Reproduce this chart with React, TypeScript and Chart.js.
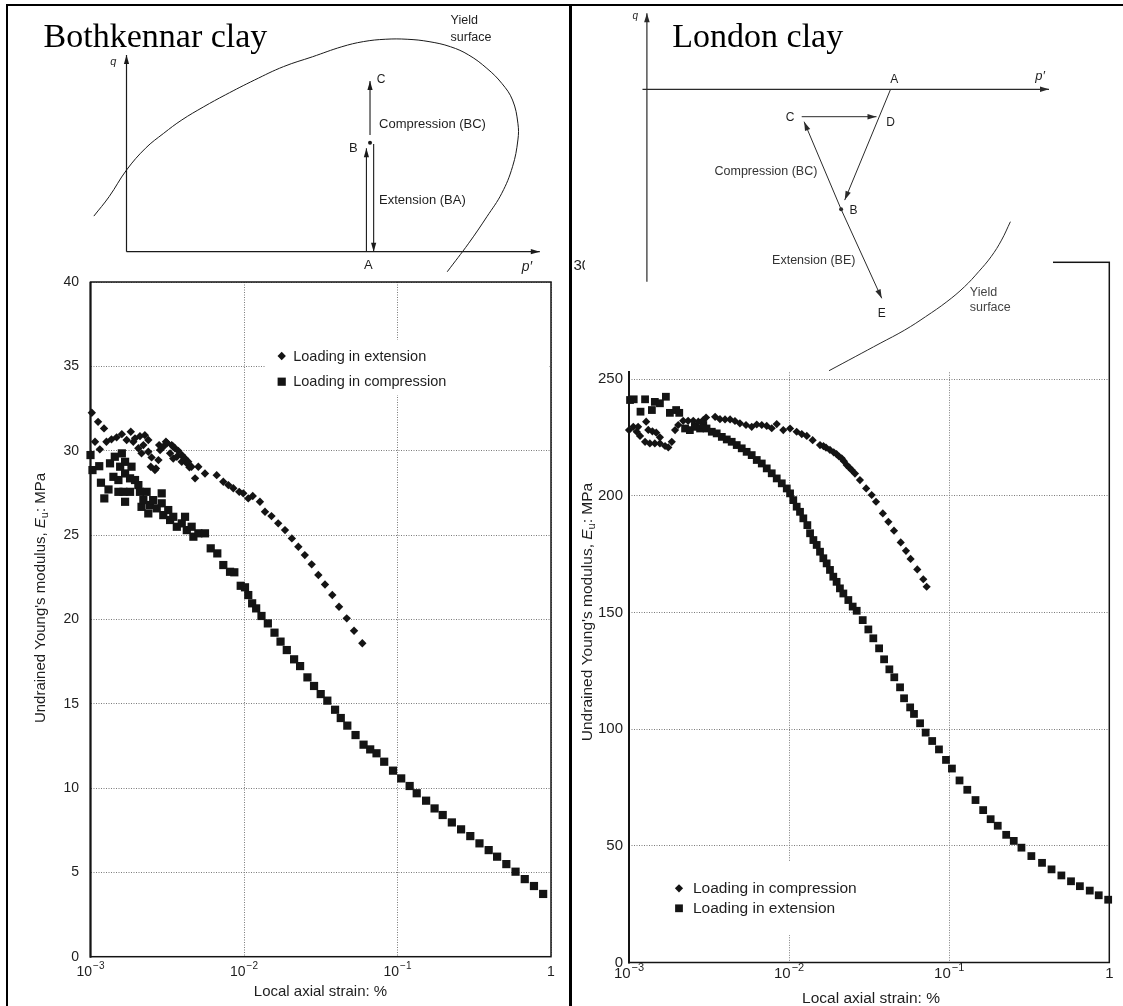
import React, { useEffect, useRef } from 'react';
import { Chart, registerables } from 'chart.js';

Chart.register(...registerables);

const SANS = '"Liberation Sans", Arial, Helvetica, "DejaVu Sans", sans-serif';
const SERIF = '"Liberation Serif", "Times New Roman", serif';
const INK = '#141414';
const TEXT = '#1e1e1e';
const GRID = '#7a7a7a';

// ---------- Bothkennar clay: undrained Young's modulus vs local axial strain ----------
const bothExtStrain = [
  0.00102, 0.00107, 0.00112, 0.00115, 0.001225, 0.00127, 0.00137, 0.00148, 0.0016, 0.00172,
  0.00183, 0.0019, 0.00195, 0.00205, 0.0021, 0.00215, 0.00221, 0.00226, 0.00238, 0.00238,
  0.00247, 0.0025, 0.00263, 0.00267, 0.00277, 0.0028, 0.00284, 0.00298, 0.0031, 0.00316,
  0.0033, 0.00338, 0.00346, 0.00346, 0.00355, 0.00365, 0.00373, 0.00393, 0.00393, 0.004,
  0.00413, 0.00424, 0.00433, 0.00441, 0.00455, 0.0048, 0.00504, 0.00557, 0.00664, 0.00733,
  0.00791, 0.00852, 0.00931, 0.00989, 0.01066, 0.0114, 0.0127, 0.0137, 0.0151, 0.0167,
  0.0185, 0.0205, 0.0226, 0.0249, 0.0276, 0.0305, 0.0337, 0.0376, 0.0416, 0.0467,
  0.0521, 0.059,
];
const bothExtModulus = [
  32.25, 30.53, 31.71, 30.08, 31.32, 30.53, 30.67, 30.79, 30.98, 30.63,
  31.12, 30.53, 30.73, 30.14, 30.86, 29.84, 30.33, 30.92, 30.63, 29.94,
  29.05, 29.6, 28.85, 28.95, 29.44, 30.33, 30.04, 30.23, 30.53, 30.45,
  29.84, 30.33, 29.54, 30.23, 30.14, 29.64, 29.99, 29.74, 29.34, 29.64,
  29.54, 29.25, 29.34, 29.01, 29.05, 28.36, 29.05, 28.65, 28.55, 28.16,
  27.96, 27.77, 27.56, 27.47, 27.17, 27.31, 26.97, 26.38, 26.12, 25.69,
  25.29, 24.8, 24.3, 23.81, 23.26, 22.63, 22.07, 21.44, 20.75, 20.06,
  19.32, 18.58,
];
const bothCompStrain = [
  0.001, 0.00103, 0.00114, 0.00117, 0.00123, 0.00131, 0.00134, 0.00141, 0.00144, 0.00152,
  0.00152, 0.00156, 0.0016, 0.00164, 0.00168, 0.00168, 0.00168, 0.00181, 0.00181, 0.00185,
  0.00195, 0.00205, 0.0021, 0.00215, 0.00221, 0.00232, 0.00238, 0.00244, 0.00256, 0.0027,
  0.00291, 0.00291, 0.00298, 0.00321, 0.0033, 0.00346, 0.00365, 0.00393, 0.00413, 0.00424,
  0.00456, 0.00468, 0.00504, 0.00557, 0.00607, 0.0067, 0.00733, 0.00811, 0.00865, 0.00952,
  0.01015, 0.01066, 0.0113, 0.012, 0.013, 0.0143, 0.0158, 0.0173, 0.019, 0.0212,
  0.0232, 0.0259, 0.0286, 0.0316, 0.0349, 0.0392, 0.0427, 0.0471, 0.0533, 0.0601,
  0.0664, 0.073, 0.0819, 0.0935, 0.1057, 0.12, 0.1334, 0.1536, 0.1744, 0.197,
  0.226, 0.2595, 0.298, 0.342, 0.3927, 0.4457, 0.5117, 0.5875, 0.6745, 0.7745,
  0.889,
];
const bothCompModulus = [
  29.74, 28.85, 29.08, 28.1, 27.17, 27.7, 29.25, 28.45, 29.64, 28.26,
  27.56, 29.05, 29.84, 27.56, 29.34, 28.65, 26.97, 28.36, 27.56, 29.05,
  28.26, 27.96, 27.56, 26.67, 27.07, 27.56, 26.28, 26.78, 27.07, 26.58,
  27.47, 26.88, 26.18, 26.48, 25.89, 26.08, 25.49, 25.69, 26.08, 25.29,
  25.49, 24.9, 25.1, 25.1, 24.21, 23.91, 23.22, 22.82, 22.79, 21.99,
  21.9, 21.44, 20.95, 20.65, 20.2, 19.76, 19.21, 18.68, 18.18, 17.63,
  17.23, 16.56, 16.05, 15.57, 15.18, 14.64, 14.15, 13.7, 13.14, 12.57,
  12.29, 12.06, 11.56, 11.03, 10.57, 10.12, 9.69, 9.25, 8.79, 8.4,
  7.96, 7.55, 7.15, 6.72, 6.32, 5.93, 5.49, 5.04, 4.6, 4.19,
  3.72,
];

// ---------- London clay: undrained Young's modulus vs local axial strain ----------
const lonCompStrain = [
  0.001, 0.001064, 0.001117, 0.00114, 0.001172, 0.00126, 0.00128, 0.00132, 0.00135, 0.0014,
  0.00145, 0.00148, 0.00156, 0.00156, 0.00168, 0.00176, 0.00185, 0.00194, 0.00203, 0.00218,
  0.00234, 0.00252, 0.00271, 0.00291, 0.00303, 0.00345, 0.0037, 0.00398, 0.00428, 0.00459,
  0.00493, 0.00538, 0.00584, 0.00628, 0.00675, 0.00725, 0.00779, 0.00837, 0.0092, 0.01014,
  0.01115, 0.012, 0.0129, 0.01403, 0.0156, 0.0164, 0.017, 0.018, 0.019, 0.0198,
  0.0205, 0.0213, 0.022, 0.0229, 0.0238, 0.0246, 0.0258, 0.0277, 0.0303, 0.0328,
  0.0349, 0.0385, 0.0417, 0.0452, 0.0498, 0.0537, 0.0574, 0.0632, 0.0689, 0.0723,
];
const lonCompModulus = [
  228.1, 229.5, 227.4, 229.5, 225.6, 223.1, 231.7, 228.2, 222.4, 227.6,
  222.4, 227.0, 222.4, 225.0, 221.3, 220.7, 223.1, 228.1, 230.3, 232.1,
  232.1, 232.1, 231.7, 232.4, 233.5, 233.8, 232.8, 232.7, 232.7, 232.0,
  231.0, 230.3, 229.5, 230.5, 230.3, 229.9, 228.9, 230.7, 228.1, 228.8,
  227.4, 226.4, 225.6, 223.8, 221.7, 221.2, 220.6, 219.6, 218.6, 217.8,
  216.8, 216.0, 214.8, 213.1, 212.0, 211.0, 209.5, 206.7, 203.1, 200.3,
  197.4, 192.4, 188.8, 185.0, 180.0, 176.4, 172.9, 168.4, 164.2, 161.0,
];
const lonExtStrain = [
  0.001015, 0.00107, 0.00118, 0.00126, 0.00139, 0.00145, 0.00156, 0.0017, 0.0018, 0.00197,
  0.00206, 0.00224, 0.0024, 0.00258, 0.00278, 0.00291, 0.00305, 0.00329, 0.00353, 0.0038,
  0.00408, 0.00438, 0.00471, 0.00506, 0.00543, 0.00584, 0.00628, 0.00675, 0.00725, 0.00779,
  0.00837, 0.009, 0.00967, 0.01014, 0.01062, 0.01115, 0.0117, 0.01227, 0.013, 0.01352,
  0.01418, 0.01487, 0.0156, 0.01636, 0.01716, 0.018, 0.01888, 0.0198, 0.02077, 0.02182,
  0.02344, 0.02495, 0.02644, 0.02883, 0.03126, 0.03357, 0.03648, 0.0392, 0.04229, 0.04539,
  0.04932, 0.05224, 0.05703, 0.06026, 0.06577, 0.07127, 0.07829, 0.0863, 0.09549, 0.104,
  0.116, 0.1297, 0.146, 0.163, 0.1815, 0.201, 0.227, 0.253, 0.2826, 0.326,
  0.38, 0.4357, 0.502, 0.5765, 0.655, 0.755, 0.859, 0.984,
];
const lonExtModulus = [
  241.0, 241.3, 236.0, 241.3, 236.7, 240.2, 239.6, 242.4, 235.5, 236.7,
  235.5, 228.8, 228.1, 229.5, 228.8, 230.3, 228.8, 227.4, 226.7, 225.2,
  224.1, 223.1, 221.7, 220.3, 218.8, 217.4, 215.3, 213.8, 211.7, 209.6,
  207.4, 205.3, 203.1, 201.0, 198.1, 195.3, 193.1, 190.3, 187.4, 183.9,
  181.0, 178.9, 176.0, 173.2, 171.0, 168.2, 165.3, 163.1, 160.3, 158.1,
  155.3, 152.5, 150.7, 146.7, 142.7, 138.9, 134.6, 129.9, 125.6, 122.2,
  117.9, 113.2, 109.3, 106.5, 102.5, 98.5, 94.9, 91.3, 86.8, 83.1,
  78.0, 74.0, 69.6, 65.3, 61.4, 58.6, 54.7, 52.1, 49.2, 45.6,
  42.7, 39.9, 37.3, 34.8, 32.7, 30.8, 28.8, 26.9,
];

// ---------- axis ticks ----------
const strainTicks = [0.001, 0.01, 0.1, 1];
const strainTickBase = ['10', '10', '10', '1'];
const strainTickExp = ['\u22123', '\u22122', '\u22121', ''];
const bothModulusTicks = [0, 5, 10, 15, 20, 25, 30, 35, 40];
const lonModulusTicks = [0, 50, 100, 150, 200, 250, 300];

// ---------- stress path sketches (p', q in sketch units) ----------
const bothYieldP = [-7.9, -4.2, 0, 4.6, 9.0, 13.4, 18.7, 23.9, 31.0, 38.0, 45.0, 52.1, 57.3, 62.6, 67.9, 73.2, 78.4, 82.8, 87.2, 90.8, 93.4, 94.7, 94.7, 93.4, 90.8, 87.2, 82.8, 77.6];
const bothYieldQ = [18.1, 28.0, 41.5, 52.6, 60.2, 67.0, 73.7, 79.7, 87.3, 94.1, 99.1, 104.2, 106.8, 108.0, 108.0, 106.8, 104.2, 100.0, 93.2, 85.6, 77.1, 65.3, 56.8, 43.2, 29.7, 17.8, 4.3, -10.2];
const bothPathAB = { p: [58.05, 58.05], q: [0, 52.6] };
const bothPathBA = { p: [59.8, 59.8], q: [54.8, 0] };
const bothPathBC = { p: [58.92, 58.92], q: [59.3, 86.8] };
const bothPointB = { p: 58.92, q: 55.4 };

const lonYieldP = [90.4, 88.2, 85.6, 82.5, 79.0, 74.6, 69.3, 64.1, 58.0, 51.8, 45.3];
const lonYieldQ = [-66.2, -75.4, -83.7, -91.2, -98.7, -106.2, -113.7, -120.4, -127, -133.7, -140.7];
const lonPathAB = { p: [60.6, 49.2], q: [0, -55.4] };
const lonPathBC = { p: [48.3, 39.1], q: [-60, -16.2] };
const lonPathCD = { p: [38.5, 57.1], q: [-13.7, -13.7] };
const lonPathBE = { p: [48.3, 58.4], q: [-60, -104.5] };
const lonPointB = { p: 48.3, q: -60 };

type Shape = 'rectRot' | 'rect';
type Series = { label: string; strain: number[]; modulus: number[]; shape: Shape; radius: number };

type ModulusSpec = {
  width: number;
  height: number;
  padding: { left: number; right: number; top: number; bottom: number };
  yMax: number;
  yTicks: number[];
  series: Series[];
  tickFont: number;
  legendFont: number;
  titleFont: number;
  yLabelGap: number;
  xLabelDrop: number;
  xTitle: { x: number; y: number };
  yTitle: { x: number; y: number };
  legendBox: { x: number; y: number; w: number; h: number };
  legendRows: { x: number; y: number }[];
  legendTextGap: number;
  stray?: { value: number; x: number; clipRight: number; dy: number };
};

function drawMarker(ctx: CanvasRenderingContext2D, shape: Shape, x: number, y: number, r: number) {
  ctx.beginPath();
  if (shape === 'rectRot') {
    ctx.moveTo(x - r, y);
    ctx.lineTo(x, y - r);
    ctx.lineTo(x + r, y);
    ctx.lineTo(x, y + r);
    ctx.closePath();
  } else {
    const s = r * Math.SQRT1_2;
    ctx.rect(x - s, y - s, 2 * s, 2 * s);
  }
  ctx.fill();
}

function drawPower(ctx: CanvasRenderingContext2D, cx: number, cy: number, base: string, exp: string, size: number) {
  const big = `${size}px ${SANS}`;
  const small = `${Math.round(size * 0.72)}px ${SANS}`;
  ctx.font = big;
  const wb = ctx.measureText(base).width;
  ctx.font = small;
  const we = exp ? ctx.measureText(exp).width + 1 : 0;
  const x0 = cx - (wb + we) / 2;
  ctx.textAlign = 'left';
  ctx.textBaseline = 'middle';
  ctx.font = big;
  ctx.fillText(base, x0, cy);
  if (exp) {
    ctx.font = small;
    ctx.fillText(exp, x0 + wb + 1, cy - size * 0.38);
  }
}

function drawModulusTitle(ctx: CanvasRenderingContext2D, cx: number, cy: number, size: number) {
  const parts = [
    { t: "Undrained Young's modulus, ", f: `${size}px ${SANS}`, dy: 0 },
    { t: 'E', f: `italic ${size}px ${SANS}`, dy: 0 },
    { t: 'u', f: `${Math.round(size * 0.7)}px ${SANS}`, dy: size * 0.28 },
    { t: ': MPa', f: `${size}px ${SANS}`, dy: 0 },
  ];
  let total = 0;
  const widths = parts.map((p) => {
    ctx.font = p.f;
    const w = ctx.measureText(p.t).width;
    total += w;
    return w;
  });
  ctx.save();
  ctx.translate(cx, cy);
  ctx.rotate(-Math.PI / 2);
  ctx.textAlign = 'left';
  ctx.textBaseline = 'middle';
  let x = -total / 2;
  parts.forEach((p, i) => {
    ctx.font = p.f;
    ctx.fillText(p.t, x, p.dy);
    x += widths[i];
  });
  ctx.restore();
}

function buildModulusChart(canvas: HTMLCanvasElement, spec: ModulusSpec) {
  const decor = {
    id: 'modulusDecor',
    afterDraw(chart: any) {
      const { ctx, chartArea: a } = chart;
      const xs = chart.scales.x;
      const ys = chart.scales.y;
      ctx.save();
      // legend panel
      ctx.fillStyle = '#ffffff';
      ctx.fillRect(spec.legendBox.x, spec.legendBox.y, spec.legendBox.w, spec.legendBox.h);
      // plot frame
      ctx.strokeStyle = INK;
      ctx.lineWidth = 1.5;
      ctx.strokeRect(a.left, a.top, a.right - a.left, a.bottom - a.top);
      ctx.lineWidth = 2;
      ctx.beginPath();
      ctx.moveTo(a.left, a.top);
      ctx.lineTo(a.left, a.bottom + 1);
      ctx.stroke();
      // modulus tick labels
      ctx.fillStyle = TEXT;
      ctx.font = `${spec.tickFont}px ${SANS}`;
      ctx.textAlign = 'right';
      ctx.textBaseline = 'middle';
      spec.yTicks.forEach((v) => {
        if (spec.stray && v === spec.stray.value) return;
        ctx.fillText(String(v), a.left - spec.yLabelGap, ys.getPixelForValue(v));
      });
      if (spec.stray) {
        ctx.save();
        ctx.beginPath();
        ctx.rect(0, 0, spec.stray.clipRight, spec.height);
        ctx.clip();
        ctx.textAlign = 'left';
        ctx.fillText(String(spec.stray.value), spec.stray.x, ys.getPixelForValue(spec.stray.value) + spec.stray.dy);
        ctx.restore();
      }
      // strain tick labels
      strainTicks.forEach((v, i) => {
        drawPower(ctx, xs.getPixelForValue(v), a.bottom + spec.xLabelDrop, strainTickBase[i], strainTickExp[i], spec.tickFont);
      });
      // axis titles
      ctx.font = `${spec.titleFont}px ${SANS}`;
      ctx.textAlign = 'center';
      ctx.textBaseline = 'middle';
      ctx.fillText('Local axial strain: %', spec.xTitle.x, spec.xTitle.y);
      drawModulusTitle(ctx, spec.yTitle.x, spec.yTitle.y, spec.titleFont);
      // legend entries
      spec.series.forEach((s, i) => {
        const row = spec.legendRows[i];
        ctx.fillStyle = INK;
        drawMarker(ctx, s.shape, row.x, row.y, s.radius);
        ctx.fillStyle = TEXT;
        ctx.font = `${spec.legendFont}px ${SANS}`;
        ctx.textAlign = 'left';
        ctx.textBaseline = 'middle';
        ctx.fillText(s.label, row.x + spec.legendTextGap, row.y + 0.5);
      });
      ctx.restore();
    },
  };

  const gridOpts = { color: GRID, lineWidth: 1, drawTicks: false };
  const borderOpts = { display: false, dash: [1, 1.5] };

  return new Chart(canvas, {
    type: 'scatter',
    data: {
      datasets: spec.series.map((s) => ({
        label: s.label,
        data: s.strain.map((v, i) => ({ x: v, y: s.modulus[i] })),
        pointStyle: s.shape,
        pointRadius: s.radius,
        pointHoverRadius: s.radius,
        backgroundColor: INK,
        borderColor: INK,
        borderWidth: 0,
        showLine: false,
        clip: false,
      })),
    },
    options: {
      responsive: false,
      animation: false,
      events: [],
      layout: { padding: spec.padding },
      plugins: { legend: { display: false }, tooltip: { enabled: false } },
      scales: {
        x: {
          type: 'logarithmic',
          min: 0.001,
          max: 1,
          afterBuildTicks: (sc: any) => {
            sc.ticks = strainTicks.map((value) => ({ value }));
          },
          ticks: { display: false },
          grid: gridOpts,
          border: borderOpts,
        },
        y: {
          type: 'linear',
          min: 0,
          max: spec.yMax,
          afterBuildTicks: (sc: any) => {
            sc.ticks = spec.yTicks.map((value) => ({ value }));
          },
          ticks: { display: false },
          grid: gridOpts,
          border: borderOpts,
        },
      },
    } as any,
    plugins: [decor],
  });
}

type Path = { p: number[]; q: number[]; arrow: boolean; smooth?: boolean; width: number };
type Label = { text: string; p: number; q: number; align: CanvasTextAlign; font: string; color?: string };

type DiagramSpec = {
  width: number;
  height: number;
  padding: { left: number; right: number; top: number; bottom: number };
  pRange: [number, number];
  qRange: [number, number];
  ink: string;
  paths: Path[];
  dot: { p: number; q: number; r: number };
  labels: Label[];
  arrow: { len: number; half: number };
  title: { text: string; x: number; y: number; size: number };
};

function buildDiagram(canvas: HTMLCanvasElement, spec: DiagramSpec) {
  const decor = {
    id: 'stressPathDecor',
    afterDatasetsDraw(chart: any) {
      const { ctx } = chart;
      const xs = chart.scales.x;
      const ys = chart.scales.y;
      ctx.save();
      ctx.fillStyle = spec.ink;
      spec.paths.forEach((path) => {
        if (!path.arrow) return;
        const n = path.p.length;
        const x1 = xs.getPixelForValue(path.p[n - 2]);
        const y1 = ys.getPixelForValue(path.q[n - 2]);
        const x2 = xs.getPixelForValue(path.p[n - 1]);
        const y2 = ys.getPixelForValue(path.q[n - 1]);
        const ang = Math.atan2(y2 - y1, x2 - x1);
        const c = Math.cos(ang);
        const s = Math.sin(ang);
        const L = spec.arrow.len;
        const W = spec.arrow.half;
        ctx.beginPath();
        ctx.moveTo(x2, y2);
        ctx.lineTo(x2 - L * c + W * s, y2 - L * s - W * c);
        ctx.lineTo(x2 - L * c - W * s, y2 - L * s + W * c);
        ctx.closePath();
        ctx.fill();
      });
      ctx.textBaseline = 'middle';
      spec.labels.forEach((l) => {
        ctx.fillStyle = l.color || TEXT;
        ctx.font = l.font;
        ctx.textAlign = l.align;
        ctx.fillText(l.text, xs.getPixelForValue(l.p), ys.getPixelForValue(l.q));
      });
      ctx.fillStyle = '#000';
      ctx.font = `${spec.title.size}px ${SERIF}`;
      ctx.textAlign = 'left';
      ctx.textBaseline = 'alphabetic';
      ctx.fillText(spec.title.text, spec.title.x, spec.title.y);
      ctx.restore();
    },
  };

  return new Chart(canvas, {
    type: 'scatter',
    data: {
      datasets: [
        ...spec.paths.map((path) => ({
          data: path.p.map((v, i) => ({ x: v, y: path.q[i] })),
          showLine: true,
          borderColor: spec.ink,
          borderWidth: path.width,
          pointRadius: 0,
          tension: path.smooth ? 0.4 : 0,
          clip: false,
          fill: false,
        })),
        {
          data: [{ x: spec.dot.p, y: spec.dot.q }],
          pointRadius: spec.dot.r,
          backgroundColor: spec.ink,
          borderWidth: 0,
          showLine: false,
          clip: false,
        },
      ],
    },
    options: {
      responsive: false,
      animation: false,
      events: [],
      layout: { padding: spec.padding },
      elements: { line: { capBezierPoints: false } },
      plugins: { legend: { display: false }, tooltip: { enabled: false } },
      scales: {
        x: { type: 'linear', display: false, min: spec.pRange[0], max: spec.pRange[1] },
        y: { type: 'linear', display: false, min: spec.qRange[0], max: spec.qRange[1] },
      },
    } as any,
    plugins: [decor],
  });
}

const small = (px: number, italic = false) => `${italic ? 'italic ' : ''}${px}px ${SANS}`;

const bothDiagram: DiagramSpec = {
  width: 568,
  height: 278,
  padding: { left: 126.5, right: 28.2, top: 55, bottom: 26.3 },
  pRange: [0, 100],
  qRange: [0, 100],
  ink: '#1a1a1a',
  paths: [
    { p: bothYieldP, q: bothYieldQ, arrow: false, smooth: true, width: 1 },
    { p: [0, 100], q: [0, 0], arrow: true, width: 1.2 },
    { p: [0, 0], q: [0, 100], arrow: true, width: 1.2 },
    { ...bothPathAB, arrow: true, width: 1.1 },
    { ...bothPathBA, arrow: true, width: 1.1 },
    { ...bothPathBC, arrow: true, width: 1.1 },
  ],
  dot: { p: bothPointB.p, q: bothPointB.q, r: 2 },
  labels: [
    { text: 'q', p: -3.2, q: 96.6, align: 'center', font: small(11, true) },
    { text: 'p\u2032', p: 96.9, q: -7.6, align: 'center', font: small(14, true) },
    { text: 'A', p: 58.5, q: -6.8, align: 'center', font: small(13) },
    { text: 'B', p: 54.9, q: 52.6, align: 'center', font: small(13) },
    { text: 'C', p: 61.6, q: 87.3, align: 'center', font: small(12) },
    { text: 'Compression (BC)', p: 61.1, q: 64.9, align: 'left', font: small(13) },
    { text: 'Extension (BA)', p: 61.1, q: 26.3, align: 'left', font: small(13) },
    { text: 'Yield', p: 78.4, q: 117.4, align: 'left', font: small(12.5) },
    { text: 'surface', p: 78.4, q: 109, align: 'left', font: small(12.5) },
  ],
  arrow: { len: 9, half: 2.6 },
  title: { text: 'Bothkennar clay', x: 43.6, y: 46.7, size: 34 },
};

const lonDiagram: DiagramSpec = {
  width: 467,
  height: 371,
  padding: { left: 60.9, right: 3.3, top: 13.3, bottom: 81.7 },
  pRange: [0, 100],
  qRange: [-100, 38],
  ink: '#2a2a2a',
  paths: [
    { p: lonYieldP, q: lonYieldQ, arrow: false, smooth: true, width: 1 },
    { p: [-1.1, 100], q: [0, 0], arrow: true, width: 1.2 },
    { p: [0, 0], q: [-96.2, 38], arrow: true, width: 1.2 },
    { ...lonPathAB, arrow: true, width: 1 },
    { ...lonPathBC, arrow: true, width: 1 },
    { ...lonPathCD, arrow: true, width: 1 },
    { ...lonPathBE, arrow: true, width: 1 },
  ],
  dot: { p: lonPointB.p, q: lonPointB.q, r: 2 },
  labels: [
    { text: 'q', p: -2.9, q: 36.3, align: 'center', font: small(10, true) },
    { text: 'p\u2032', p: 97.8, q: 6.3, align: 'center', font: small(13, true) },
    { text: 'A', p: 61.5, q: 5, align: 'center', font: small(12) },
    { text: 'C', p: 35.6, q: -14, align: 'center', font: small(12) },
    { text: 'D', p: 60.6, q: -16.7, align: 'center', font: small(12) },
    { text: 'B', p: 51.4, q: -60.9, align: 'center', font: small(12) },
    { text: 'E', p: 58.4, q: -112, align: 'center', font: small(12) },
    { text: 'Compression (BC)', p: 29.6, q: -40.9, align: 'center', font: small(12.5), color: '#333' },
    { text: 'Extension (BE)', p: 41.5, q: -85.4, align: 'center', font: small(12.5), color: '#333' },
    { text: 'Yield', p: 80.3, q: -101.7, align: 'left', font: small(12.5), color: '#444' },
    { text: 'surface', p: 80.3, q: -109, align: 'left', font: small(12.5), color: '#444' },
  ],
  arrow: { len: 9, half: 2.8 },
  title: { text: 'London clay', x: 86.3, y: 46.7, size: 34 },
};

const bothChart: ModulusSpec = {
  width: 568,
  height: 736,
  padding: { left: 90.5, right: 17, top: 12, bottom: 49.3 },
  yMax: 40,
  yTicks: bothModulusTicks,
  series: [
    { label: 'Loading in extension', strain: bothExtStrain, modulus: bothExtModulus, shape: 'rectRot', radius: 4.2 },
    { label: 'Loading in compression', strain: bothCompStrain, modulus: bothCompModulus, shape: 'rect', radius: 5.8 },
  ],
  tickFont: 14,
  legendFont: 14.5,
  titleFont: 15,
  yLabelGap: 11.5,
  xLabelDrop: 15,
  xTitle: { x: 320.5, y: 722 },
  yTitle: { x: 41, y: 328 },
  legendBox: { x: 265, y: 70, w: 284, h: 55 },
  legendRows: [
    { x: 281.7, y: 86 },
    { x: 281.7, y: 111.7 },
  ],
  legendTextGap: 11.5,
};

const lonChart: ModulusSpec = {
  width: 553,
  height: 756,
  padding: { left: 59, right: 13.7, top: 12.3, bottom: 43.5 },
  yMax: 300,
  yTicks: lonModulusTicks,
  series: [
    { label: 'Loading in compression', strain: lonCompStrain, modulus: lonCompModulus, shape: 'rectRot', radius: 4.1 },
    { label: 'Loading in extension', strain: lonExtStrain, modulus: lonExtModulus, shape: 'rect', radius: 5.5 },
  ],
  tickFont: 15,
  legendFont: 15.5,
  titleFont: 15.5,
  yLabelGap: 6,
  xLabelDrop: 11,
  xTitle: { x: 301, y: 749 },
  yTitle: { x: 18, y: 362 },
  legendBox: { x: 92, y: 612, w: 208, h: 73 },
  legendRows: [
    { x: 109, y: 638.3 },
    { x: 109, y: 658.3 },
  ],
  legendTextGap: 14,
  stray: { value: 300, x: 3.5, clipRight: 15, dy: 4 },
};

type PanelProps = {
  left: number;
  top: number;
  width: number;
  height: number;
  z: number;
  bg?: string;
  build: (c: HTMLCanvasElement) => Chart;
};

function ChartPanel({ left, top, width, height, z, bg, build }: PanelProps) {
  const ref = useRef<HTMLCanvasElement | null>(null);
  useEffect(() => {
    if (!ref.current) return;
    const chart = build(ref.current);
    return () => chart.destroy();
  }, []);
  return (
    <canvas
      ref={ref}
      width={width}
      height={height}
      style={{ position: 'absolute', left, top, width, height, zIndex: z, background: bg || 'transparent', display: 'block' }}
    />
  );
}

const rule = (left: number, top: number, width: number, height: number): React.CSSProperties => ({
  position: 'absolute',
  left,
  top,
  width,
  height,
  background: '#000',
  zIndex: 10,
});

export default function App() {
  return (
    <div
      style={{
        position: 'absolute',
        left: 0,
        top: 0,
        width: 1123,
        height: 1006,
        background: '#fff',
        overflow: 'hidden',
      }}
    >
      <ChartPanel left={0} top={0} width={568} height={278} z={2} build={(c) => buildDiagram(c, bothDiagram)} />
      <ChartPanel left={0} top={270} width={568} height={736} z={1} build={(c) => buildModulusChart(c, bothChart)} />
      <ChartPanel left={570} top={250} width={553} height={756} z={1} build={(c) => buildModulusChart(c, lonChart)} />
      <ChartPanel left={586} top={0} width={467} height={371} z={3} bg="#ffffff" build={(c) => buildDiagram(c, lonDiagram)} />
      <div style={rule(6, 4, 1117, 2)} />
      <div style={rule(6, 4, 2, 1002)} />
      <div style={rule(569, 4, 3, 1002)} />
    </div>
  );
}
